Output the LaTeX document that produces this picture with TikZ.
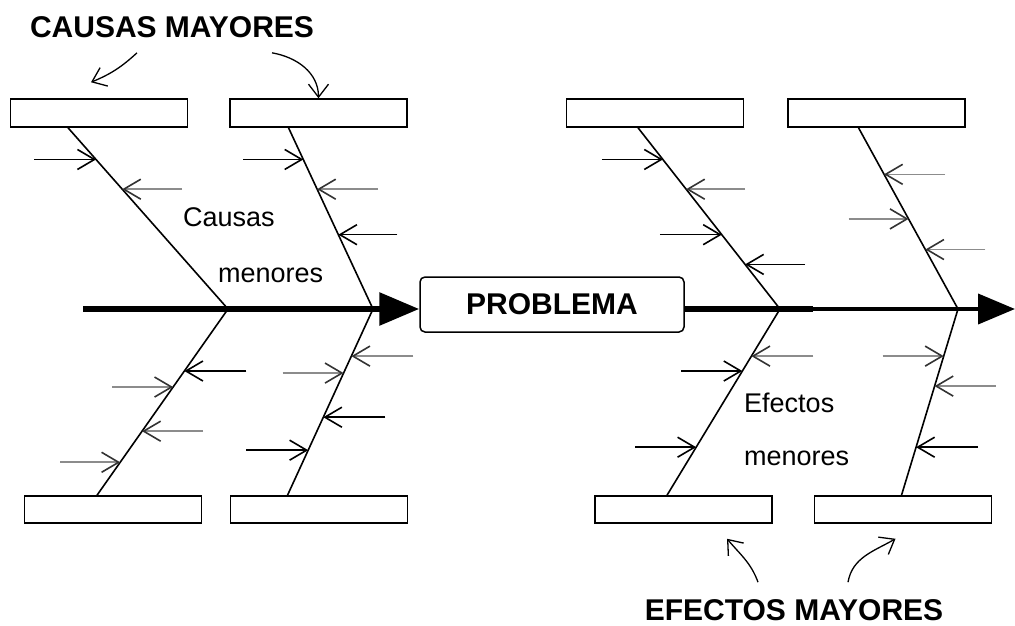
\documentclass[tikz,border=0pt]{standalone}
\usepackage{fontspec}
\setmainfont{Liberation Sans}
\usetikzlibrary{positioning, calc, arrows.meta}

\newcommand{\twig}[5]{\draw[#5] ($(#1)!#3!(#2)+(#4,0)$) -- ($(#1)!#3!(#2)$);}

\begin{document}
\begin{tikzpicture}[x=1pt, y=1pt,
   major/.style={draw, line width=1.5pt, minimum width=177pt, minimum height=28pt, inner sep=0pt},
   bone/.style={line width=1.6pt},
   tw/.style={line width=1.6pt, -{Straight Barb[length=17pt,width=20pt]}},
   twg/.style={tw, black!45, -{Straight Barb[length=17pt,width=20pt,color=black!80]}},
   title/.style={font=\fontsize{30}{36}\selectfont\bfseries, inner sep=0pt},
   minor/.style={font=\fontsize{27}{32}\selectfont, inner sep=0pt, anchor=base west},
   hint/.style={line width=1.3pt, -{Straight Barb[length=13pt,width=20pt]}}]
   \useasboundingbox (0,0) rectangle (1015,-626);
   % Drawing goes here
   \node[major] (t1) at (99,-113) {};
   \node[major, right=41pt of t1] (t2) {};
   \node[major] (t3) at (655,-113) {};
   \node[major, right=43pt of t3] (t4) {};
   \node[major, minimum height=27pt] (b1) at (113,-509.5) {};
   \node[major, minimum height=27pt, right=27.5pt of b1] (b2) {};
   \node[major, minimum height=27pt] (b3) at (683.5,-509.5) {};
   \node[major, minimum height=27pt, right=41pt of b3] (b4) {};
   \node[draw, rounded corners=5pt, line width=1.5pt, minimum width=264pt, minimum height=55pt, title] (prob) at (552,-304.5) {PROBLEMA};

   \node[title] (causasM) at (172,-27) {CAUSAS MAYORES};
   \node[title] (efectosM) at (794,-610) {EFECTOS MAYORES};
   \node[minor] (causas) at (183,-226) {Causas};
   \node[minor] (menC) at (218,-282) {menores};
   \node[minor] (efectos) at (744,-412) {Efectos};
   \node[minor] (menE) at (744,-465) {menores};

   % spine
   \coordinate (tail) at (83,-309);
   \coordinate (mid) at (813,-309);
   \coordinate (head) at (1015,-309);
   \draw[line width=6pt, -{Triangle[length=40pt,width=32pt]}] (tail) -- (tail -| prob.west);
   \draw[line width=6pt] (prob.east |- mid) -- (mid);
   \draw[line width=4pt, -{Triangle[length=37pt,width=30pt]}] (mid) -- (head);

   % bones
   \coordinate (j1) at (228,-309);
   \coordinate (j2) at (373,-309);
   \coordinate (j3) at (780,-309);
   \coordinate (j4) at (958,-309);
   \coordinate (c1) at ($(t1.south)+(-31,0)$);
   \coordinate (c2) at ($(t2.south)+(-30,0)$);
   \coordinate (c3) at ($(t3.south)+(-17,0)$);
   \coordinate (c4) at ($(t4.south)+(-18,0)$);
   \coordinate (d1) at ($(b1.north)+(-16,0)$);
   \coordinate (d2) at ($(b2.north)+(-31.5,0)$);
   \coordinate (d3) at ($(b3.north)+(-16.5,0)$);
   \coordinate (d4) at ($(b4.north)+(-1.5,0)$);
   \draw[bone] (c1) -- (j1) -- (d1);
   \draw[bone] (c2) -- (j2) -- (d2);
   \draw[bone] (c3) -- (j3) -- (d3);
   \draw[bone] (c4) -- (j4) -- (d4);

   % minor causes and effects
   \twig{c1}{j1}{0.175}{-62}{tw}
   \twig{c1}{j1}{0.339}{60}{twg}
   \twig{c2}{j2}{0.175}{-60}{tw}
   \twig{c2}{j2}{0.339}{61}{twg}
   \twig{c2}{j2}{0.590}{59}{tw}
   \twig{c3}{j3}{0.175}{-61}{tw}
   \twig{c3}{j3}{0.339}{59}{twg}
   \twig{c3}{j3}{0.590}{-62}{tw}
   \twig{c3}{j3}{0.754}{60}{tw}
   \twig{c4}{j4}{0.257}{61}{twg}
   \twig{c4}{j4}{0.503}{-60}{twg}
   \twig{c4}{j4}{0.672}{60}{twg}
   \twig{d1}{j1}{0.667}{62}{tw}
   \twig{d1}{j1}{0.581}{-61}{twg}
   \twig{d1}{j1}{0.344}{61}{twg}
   \twig{d1}{j1}{0.177}{-60}{twg}
   \twig{d2}{j2}{0.747}{62}{twg}
   \twig{d2}{j2}{0.656}{-61}{twg}
   \twig{d2}{j2}{0.419}{62}{tw}
   \twig{d2}{j2}{0.242}{-62}{tw}
   \twig{d3}{j3}{0.747}{62}{twg}
   \twig{d3}{j3}{0.667}{-61}{tw}
   \twig{d3}{j3}{0.258}{-61}{tw}
   \twig{d4}{j4}{0.747}{-61}{twg}
   \twig{d4}{j4}{0.586}{61}{twg}
   \twig{d4}{j4}{0.258}{62}{tw}

   % pointers from the titles
   \draw[hint] ($(causasM.south)+(-35,-15)$) to[bend left=10] ($(t1.north)+(-8,16)$);
   \draw[hint] ($(causasM.south)+(100,-15)$) to[out=-10, in=90] (t2.north);
   \draw[hint] ($(efectosM.north)+(-36,17)$) to[out=110, in=-50] ($(b3.south)+(43.5,-15)$);
   \draw[hint] ($(efectosM.north)+(54,17)$) to[out=80, in=-150] ($(b4.south)+(-7.5,-15)$);
\end{tikzpicture}
\end{document}
